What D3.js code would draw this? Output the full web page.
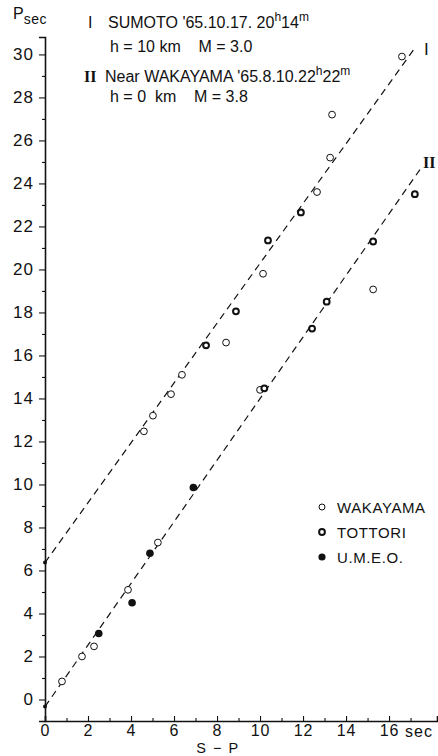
<!DOCTYPE html>
<html>
<head>
<meta charset="utf-8">
<script src="https://cdn.jsdelivr.net/npm/d3@7"></script>
<style>
  html, body { margin: 0; padding: 0; background: #fff; }
  svg { display: block; }
  text { font-family: "Liberation Sans", Arial, sans-serif; fill: #111; white-space: pre; }
</style>
</head>
<body>
<script>
// S−P time (sec) and P arrival time (sec), by recording network
const wakayama = [
  [16.6, 29.9], [13.35, 27.2], [13.26, 25.2], [12.65, 23.6], [10.14, 19.8],
  [8.42, 16.6], [6.37, 15.1], [5.86, 14.2], [5.02, 13.2], [4.6, 12.47],
  [15.26, 19.07], [10.0, 14.4], [5.25, 7.3], [3.86, 5.1], [2.28, 2.47],
  [1.72, 2.0], [0.79, 0.84]
];
const tottori = [
  [11.9, 22.65], [10.37, 21.35], [8.88, 18.05], [7.49, 16.47],
  [17.2, 23.5], [15.26, 21.3], [13.1, 18.5], [12.42, 17.25], [10.2, 14.47]
];
const umeo = [[6.9, 9.86], [4.88, 6.8], [4.05, 4.5], [2.5, 3.07]];

// Fitted travel-time lines: I (SUMOTO) and II (near WAKAYAMA)
const lineI = [[0, 6.37], [17.2, 30.3]];
const lineII = [[0, -0.33], [17.44, 24.65]];

const yTicks = d3.range(0, 31, 2);
const xTicks = d3.range(0, 17, 2);

const W = 438, H = 756;
const svg = d3.select("body").append("svg").attr("width", W).attr("height", H);

const x = d3.scaleLinear().domain([0, 18.23]).range([45, 437]);
const y = d3.scaleLinear().domain([-1, 30.81]).range([721, 37]);

// Y axis: major ticks every 2 s (labelled), minor ticks at odd seconds
const yAxis = svg.append("g").attr("transform", `translate(${x(0)},0)`)
  .call(d3.axisLeft(y).tickValues(yTicks).tickSize(6).tickPadding(5).tickFormat(d3.format("d")));
svg.append("g").attr("transform", `translate(${x(0)},0)`)
  .call(d3.axisLeft(y).tickValues(d3.range(-1, 31, 2)).tickSize(3).tickFormat(""))
  .call(g => g.select(".domain").remove());

// X axis: ticks point up into the plot, labels below
const xAxis = svg.append("g").attr("transform", `translate(0,${y(-1)})`)
  .call(d3.axisBottom(x).tickValues(xTicks).tickSize(-5).tickPadding(4).tickFormat(d3.format("d")));
svg.append("g").attr("transform", `translate(0,${y(-1)})`)
  .call(d3.axisBottom(x).tickValues(d3.range(1, 18, 2)).tickSize(-3).tickFormat(""))
  .call(g => g.select(".domain").remove());

svg.selectAll(".domain").attr("stroke", "#111").attr("stroke-width", 1.6);
svg.selectAll(".tick line").attr("stroke", "#111").attr("stroke-width", 1.1);
svg.selectAll(".tick text").style("letter-spacing", "1px")
  .attr("fill", "#111").style("font-family", "Liberation Sans, Arial, sans-serif");
yAxis.selectAll(".tick text").style("font-size", "17px");
xAxis.selectAll(".tick text").style("font-size", "16px");

// Axis titles
const pt = svg.append("text").attr("x", 13).attr("y", 19).style("font-size", "16px");
pt.append("tspan").text("P");
pt.append("tspan").attr("dy", 5).style("font-size", "14px").style("letter-spacing", "0.5px").text("sec");

svg.append("text").attr("x", 405).attr("y", 737).style("font-size", "16px")
  .style("letter-spacing", "1px").text("sec");
svg.append("text").attr("x", 218).attr("y", 753).attr("text-anchor", "middle")
  .style("font-size", "14.5px").style("letter-spacing", "1.5px").text("S − P");

// Dashed travel-time lines
const line = d3.line().x(d => x(d[0])).y(d => y(d[1]));
[lineI, lineII].forEach(l => {
  svg.append("path").attr("d", line(l)).attr("fill", "none")
    .attr("stroke", "#111").attr("stroke-width", 1.2).attr("stroke-dasharray", "7,5");
  svg.append("circle").attr("cx", x(l[0][0])).attr("cy", y(l[0][1])).attr("r", 2).attr("fill", "#111");
});
svg.append("text").attr("x", 424).attr("y", 55).style("font-size", "17px").text("I");
svg.append("text").attr("x", 423).attr("y", 168).style("font-size", "16px")
  .style("font-family", "Liberation Serif, serif").style("font-weight", "bold").text("II");

// Station markers
svg.append("g").selectAll("circle").data(wakayama).join("circle")
  .attr("cx", d => x(d[0])).attr("cy", d => y(d[1])).attr("r", 3.4)
  .attr("fill", "#fff").attr("stroke", "#111").attr("stroke-width", 1);
svg.append("g").selectAll("circle").data(tottori).join("circle")
  .attr("cx", d => x(d[0])).attr("cy", d => y(d[1])).attr("r", 2.9)
  .attr("fill", "#fff").attr("stroke", "#111").attr("stroke-width", 2);
svg.append("g").selectAll("circle").data(umeo).join("circle")
  .attr("cx", d => x(d[0])).attr("cy", d => y(d[1])).attr("r", 3.8)
  .attr("fill", "#111");

// Legend
const legend = [
  { name: "WAKAYAMA", r: 3, fill: "#fff", sw: 1 },
  { name: "TOTTORI", r: 2.9, fill: "#fff", sw: 2 },
  { name: "U.M.E.O.", r: 3.6, fill: "#111", sw: 0 }
];
const lg = svg.append("g");
legend.forEach((d, i) => {
  const yy = 507 + i * 25;
  lg.append("circle").attr("cx", 322).attr("cy", yy).attr("r", d.r)
    .attr("fill", d.fill).attr("stroke", "#111").attr("stroke-width", d.sw);
  lg.append("text").attr("x", 337).attr("y", yy + 6).style("font-size", "15px")
    .style("letter-spacing", "0.6px").text(d.name);
});

// Event headers
function header(xp, yp, parts, size) {
  const t = svg.append("text").attr("x", xp).attr("y", yp).style("font-size", size + "px");
  parts.forEach(p => {
    const s = t.append("tspan").text(p.t);
    if (p.sup) s.attr("baseline-shift", "super").style("font-size", (size - 4) + "px");
  });
  return t;
}
svg.append("text").attr("x", 88).attr("y", 28).style("font-size", "16px").text("I");
header(108, 28, [{ t: "SUMOTO '65.10.17. 20" }, { t: "h", sup: 1 }, { t: "14" }, { t: "m", sup: 1 }], 16);
header(110, 52, [{ t: "h = 10 km    M = 3.0" }], 16);
svg.append("text").attr("x", 84).attr("y", 82).style("font-size", "16px")
  .style("font-family", "Liberation Serif, serif").style("font-weight", "bold").text("II");
header(105, 82, [{ t: "Near WAKAYAMA '65.8.10.22" }, { t: "h", sup: 1 }, { t: "22" }, { t: "m", sup: 1 }], 16);
header(110, 102, [{ t: "h = 0  km    M = 3.8" }], 16);
</script>
</body>
</html>
